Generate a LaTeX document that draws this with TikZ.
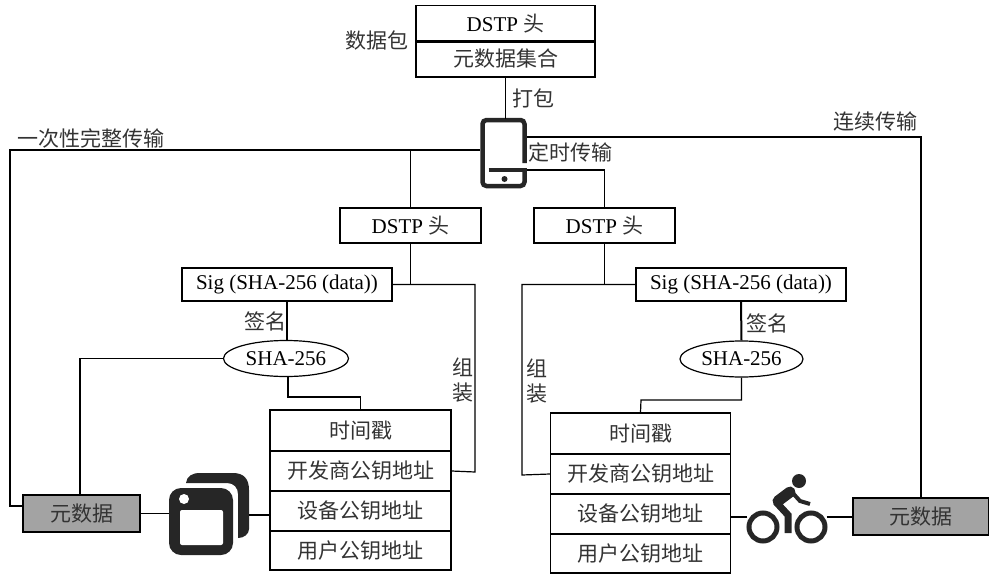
\documentclass[tikz,border=0pt]{standalone}
\usepackage{fontspec}
\setmainfont{Liberation Serif}
\newfontfamily\cjkfont{Noto Sans CJK SC}
\usetikzlibrary{calc}
\usetikzlibrary{shapes}
\colorlet{metabg}{black!36}
\colorlet{iconfg}{black!85}
\newcommand{\zh}[1]{{\cjkfont\color{black!80}#1}}
\tikzset{box/.style={draw,line width=1.2pt,inner sep=0pt,minimum height=#1},box/.default=37pt}
\tikzset{rowbox/.style={box=40pt,minimum width=181pt}}
\tikzset{hashnode/.style={draw,ellipse,line width=1.2pt,inner sep=0pt}}
\tikzset{lbl/.style={inner sep=0pt}}
\tikzset{conn/.style={line width=1.2pt}}
\tikzset{phone/.pic={
    \node[inner sep=0pt,minimum width=47pt,minimum height=71pt] (-frame) at (0,0) {};
    \draw[iconfg,line width=4.5pt,rounded corners=4pt] (21,10) -- (21,-33) -- (-21,-33) -- (-21,33) -- (21,33) -- (21,17);
    \draw[iconfg,line width=4pt] (-15,17) -- (23,17);
    \fill[iconfg] (1,26) circle (3);
}}
\tikzset{windows/.pic={
    \node[inner sep=0pt,minimum width=80pt,minimum height=82pt] (-frame) at (0,0) {};
    \fill[iconfg] (-23,-31) .. controls (-22,-38) and (-17,-41) .. (-9,-41) -- (24,-41)
      .. controls (35,-41) and (40,-35) .. (40,-24) -- (40,15)
      .. controls (40,20) and (35,24) .. (29,24) -- (29,-20)
      .. controls (29,-26) and (25,-31) .. (18,-31) -- cycle;
    \fill[iconfg,rounded corners=12pt] (-40,-26) rectangle (24,41);
    \fill[white,rounded corners=2pt] (-29,-4) rectangle (14,31);
    \fill[white] (-25,-15) circle (5);
}}
\tikzset{cyclist/.pic={
    \node[inner sep=0pt,minimum width=79pt,minimum height=71pt] (-frame) at (0,0) {};
    \draw[iconfg,line width=5pt] (-24,17) circle (14) (24,17) circle (14);
    \fill[iconfg] (12,-29) circle (7);
    \draw[iconfg,line width=11pt,line cap=round] (-9,-9) -- (3,-18);
    \draw[iconfg,line width=4pt] (3,-20) -- (13,-9) -- (23,-6);
    \draw[iconfg,line width=7pt] (-11,-8) -- (1,5) -- (1,23);
}}
\begin{document}
\begin{tikzpicture}[x=1pt,y=-1pt,font=\fontsize{21}{25}\selectfont]
  \useasboundingbox (0,0) rectangle (989,576);
  % packet on top
  \node[box,minimum width=179pt] (head) at (505.5,24) {DSTP \zh{头}};
  \node[box=36pt,minimum width=179pt] (set) at (505.5,59) {\zh{元数据集合}};
  \node[lbl] (packetlbl) at (377,40) {\zh{数据包}};
  \pic (phone) at (503.5,153) {phone};
  \draw[conn] (set.south) -- ($(set.south)+(0,41)$) coordinate (phonetop);
  \node[lbl] (packlbl) at (533,98) {\zh{打包}};
  \node[lbl] (oncelbl) at (91,138) {\zh{一次性完整传输}};
  \node[lbl] (streamlbl) at (875,122) {\zh{连续传输}};
  \node[lbl] (timedlbl) at (570,152) {\zh{定时传输}};
  % left branch
  \node[box=35pt,minimum width=141pt] (dstpL) at (410.5,225.5) {DSTP \zh{头}};
  \node[box=33pt,minimum width=210pt] (sigL) at (287,284.5) {Sig (SHA-256 (data))};
  \node[hashnode,minimum width=125pt,minimum height=36pt] (shaL) at (286,358.5) {SHA-256};
  \node[lbl] (signL) at (265,321) {\zh{签名}};
  \node[box=41pt,minimum width=181pt] (timeL) at (360.5,430.5) {\zh{时间戳}};
  \node[rowbox] (devL) at (360.5,471) {\zh{开发商公钥地址}};
  \node[rowbox] (hwL) at (360.5,511) {\zh{设备公钥地址}};
  \node[rowbox,box=39pt] (userL) at (360.5,550.5) {\zh{用户公钥地址}};
  \node[lbl,align=center] (buildL) at (463,380) {\zh{组}\\\zh{装}};
  \node[box,minimum width=117pt,fill=metabg] (metaL) at (81.5,513.5) {\zh{元数据}};
  \pic (app) at (209,514) {windows};
  % right branch
  \node[box=35pt,minimum width=141pt] (dstpR) at (604.5,225.5) {DSTP \zh{头}};
  \node[box=33pt,minimum width=210pt] (sigR) at (741,284.5) {Sig (SHA-256 (data))};
  \node[hashnode,minimum width=123pt,minimum height=36pt] (shaR) at (741.5,359) {SHA-256};
  \node[lbl] (signR) at (767,323) {\zh{签名}};
  \node[box=41pt,minimum width=180pt] (timeR) at (640.5,433.5) {\zh{时间戳}};
  \node[rowbox,minimum width=180pt] (devR) at (640.5,474) {\zh{开发商公钥地址}};
  \node[rowbox,minimum width=180pt] (hwR) at (640.5,514) {\zh{设备公钥地址}};
  \node[rowbox,box=39pt,minimum width=180pt] (userR) at (640.5,553.5) {\zh{用户公钥地址}};
  \node[lbl,align=center] (buildR) at (537,381) {\zh{组}\\\zh{装}};
  \pic (bike) at (787,510) {cyclist};
  \node[box,minimum width=136pt,fill=metabg] (metaR) at (921,516.5) {\zh{元数据}};
  % from the phone
  \draw[conn] ([yshift=16pt]phone-frame.east) -| (metaR.north);
  \draw[conn] ([yshift=3pt]phone-frame.west) -| (10,506) -- ([yshift=7.5pt]metaL.west);
  \draw[conn] (dstpL.north) -- (dstpL.north |- {0,150});
  \draw[conn] ([yshift=-17pt]phone-frame.east) -| (dstpR.north);
  % left connectors
  \draw[conn] (dstpL.south) -- (dstpL.south |- sigL.east);
  \draw[conn] (sigL.south) -- (sigL.south |- shaL.north);
  \draw[conn] (shaL.west) -| (80,495);
  \draw[conn] ([xshift=2pt]shaL.south) |- (360.5,397) -- (timeL.north);
  \draw[conn] (sigL.east) -| (475,472) -- (devL.east);
  \draw[conn] (metaL.east) -- (metaL.east -| app-frame.west);
  \draw[conn] ([yshift=-1pt]app-frame.east) -- ([yshift=-1pt]app-frame.east -| hwL.west);
  % right connectors
  \draw[conn] (dstpR.south) -- (dstpR.south |- sigR.west);
  \draw[conn] (sigR.west) -| (522,475) -- (devR.west);
  \draw[conn,line width=2pt] (sigR.south) -- (shaR.north);
  \draw[conn] (shaR.south) |- (641,400) -- (timeR.north);
  \draw[conn] ([yshift=-7pt]bike-frame.west) -- ([yshift=-7pt]bike-frame.west -| hwR.east);
  \draw[conn] ([yshift=-7pt]bike-frame.east) -- ([yshift=-7pt]bike-frame.east -| metaR.west);
\end{tikzpicture}
\end{document}
